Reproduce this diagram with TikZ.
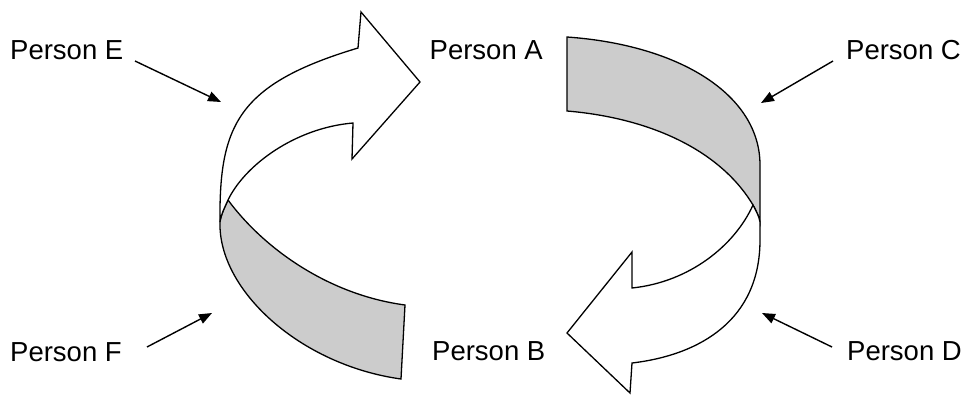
\documentclass[tikz,border=0pt]{standalone}
\usepackage{fontspec}
\setmainfont{Liberation Sans}
\usetikzlibrary{arrows.meta}
\definecolor{bandgray}{HTML}{CCCCCC}
\begin{document}
\begin{tikzpicture}[x=1pt,y=-1pt,
  band/.style={draw=black, line width=1.3pt},
  grayband/.style={band, fill=bandgray},
  whiteband/.style={band, fill=white},
  lbl/.style={anchor=base west, inner sep=0pt, font=\fontsize{27.5}{33}\selectfont},
  pointer/.style={draw=black, line width=1.4pt, -{Triangle[length=13pt,width=10pt]}}]
\useasboundingbox (0,0) rectangle (967,396);

% left ribbon
\draw[grayband] (228,200) .. controls (225,207) and (221,214) .. (220,222)
  .. controls (218,290) and (300,365) .. (401,379) -- (405,305)
  .. controls (330,295) and (265,250) .. (228,200) -- cycle;
\draw[whiteband] (220,222) .. controls (219,125) and (238,84) .. (358,48)
  -- (361,12) -- (420,82) -- (352,159) -- (353,123)
  .. controls (295,128) and (245,165) .. (228,200)
  .. controls (225,207) and (221,214) .. (220,222) -- cycle;

% right ribbon
\draw[grayband] (567,37) .. controls (680,45) and (760,95) .. (760,165)
  -- (760,222) .. controls (759,216) and (756,211) .. (753,205)
  .. controls (720,150) and (650,118) .. (567,111) -- cycle;
\draw[whiteband] (753,205) .. controls (735,245) and (690,282) .. (632,288)
  -- (632,252) -- (567,333) -- (630,393) -- (632,363)
  .. controls (700,355) and (760,320) .. (760,240)
  -- (760,222) .. controls (759,216) and (756,211) .. (753,205) -- cycle;

% labels
\node[lbl] (lE) at (10,60) {Person E};
\node[lbl] (lA) at (429.5,59.5) {Person A};
\node[lbl] (lC) at (846,59.5) {Person C};
\node[lbl] (lF) at (10,361) {Person F};
\node[lbl] (lB) at (432,360) {Person B};
\node[lbl] (lD) at (847,360) {Person D};

% pointers
\coordinate (sE) at (135,61);  \coordinate (tE) at (221,102);
\coordinate (sF) at (147,347); \coordinate (tF) at (212,313);
\coordinate (sC) at (833,61);  \coordinate (tC) at (761,103);
\coordinate (sD) at (832,347); \coordinate (tD) at (762,313);
\draw[pointer] (sE) -- (tE);
\draw[pointer] (sF) -- (tF);
\draw[pointer] (sC) -- (tC);
\draw[pointer] (sD) -- (tD);
\end{tikzpicture}
\end{document}
